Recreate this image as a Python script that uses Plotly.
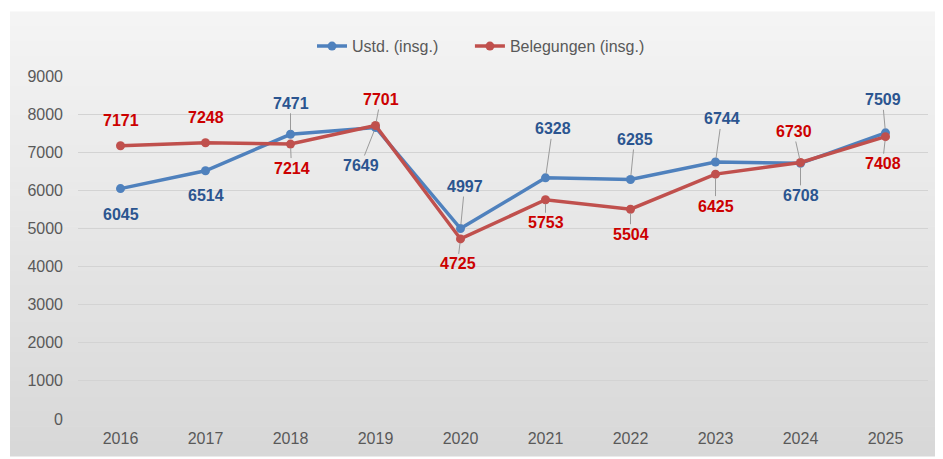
import plotly.graph_objects as go

# data
years = [2016, 2017, 2018, 2019, 2020, 2021, 2022, 2023, 2024, 2025]
ustd = [6045, 6514, 7471, 7649, 4997, 6328, 6285, 6744, 6708, 7509]
belegungen = [7171, 7248, 7214, 7701, 4725, 5753, 5504, 6425, 6730, 7408]
y_ticks = [0, 1000, 2000, 3000, 4000, 5000, 6000, 7000, 8000, 9000]

# label placement (pixel offsets from the point, leader line yes/no)
ustd_pos = [(0, 26, False), (0, 25, False), (0, -31, True), (-15, 38, True), (4, -42, True),
            (7, -49, True), (4, -40, True), (6, -43, True), (0, 32, True), (-3, -33, True)]
beleg_pos = [(0, -25, False), (0, -25, False), (1, 24, True), (5, -26, True), (-3, 25, True),
             (0, 23, True), (0, 25, True), (0, 32, True), (-7, -31, True), (-3, 27, True)]

FONT = "Liberation Sans, Arial, sans-serif"
BLUE = "#4f81bd"
RED = "#c0504d"
BLUE_TXT = "#2b5590"
RED_TXT = "#cc0000"

# page body has an 8px margin, so the figure is a bit smaller than the window
W, H = 935, 451
L, R, T, B = 70, 15, 68, 38
pw, ph = W - L - R, H - T - B

fig = go.Figure()
fig.add_trace(go.Scatter(x=years, y=ustd, name="Ustd. (insg.)" + "&nbsp;" * 6,
                         mode="lines+markers",
                         line=dict(color=BLUE, width=3.5), marker=dict(size=9, color=BLUE)))
fig.add_trace(go.Scatter(x=years, y=belegungen, name="Belegungen (insg.)", mode="lines+markers",
                         line=dict(color=RED, width=3.5), marker=dict(size=9, color=RED)))

annots = []
for vals, pos, col in [(ustd, ustd_pos, BLUE_TXT), (belegungen, beleg_pos, RED_TXT)]:
    for x, y, (dx, dy, line) in zip(years, vals, pos):
        annots.append(dict(x=x, y=y, text="<b>%d</b>" % y, ax=dx, ay=dy, showarrow=True,
                           arrowhead=0, arrowwidth=1, standoff=4,
                           arrowcolor="#9a9a9a" if line else "rgba(0,0,0,0)",
                           font=dict(family=FONT, size=16, color=col)))

# grey vertical gradient behind the chart (Excel style chart area)
def px2paper_x(p):
    return (p - L) / pw

def px2paper_y(p):
    return (H - B - p) / ph

shapes = []
top, bottom, left, right = 3, 450, 2, 930
n = 60
c0, c1 = (244, 244, 244), (216, 216, 216)
for i in range(n):
    t = i / (n - 1)
    c = tuple(int(round(a + (b - a) * t)) for a, b in zip(c0, c1))
    y0 = top + (bottom - top) * i / n
    y1 = top + (bottom - top) * (i + 1) / n
    shapes.append(dict(type="rect", xref="paper", yref="paper", layer="below",
                       x0=px2paper_x(left), x1=px2paper_x(right),
                       y0=px2paper_y(y1) - 0.002, y1=px2paper_y(y0),
                       fillcolor="rgb(%d,%d,%d)" % c, line=dict(width=0)))

fig.update_layout(
    width=W, height=H,
    margin=dict(l=L, r=R, t=T, b=B),
    paper_bgcolor="white", plot_bgcolor="rgba(0,0,0,0)",
    font=dict(family=FONT, size=16, color="#595959"),
    showlegend=True,
    legend=dict(orientation="h", x=px2paper_x(304), xanchor="left", y=1.087, yanchor="middle",
                bgcolor="rgba(0,0,0,0)", font=dict(size=16, color="#595959")),
    shapes=shapes,
    annotations=annots,
)
fig.update_xaxes(range=[2015.5, 2025.5], tickvals=years, ticktext=[str(y) for y in years],
                 showgrid=False, zeroline=False, showline=False, ticks="", ticklabelstandoff=8,
                 tickfont=dict(size=16, color="#595959"))
fig.update_yaxes(range=[0, 9000], tickvals=y_ticks, showgrid=True, gridcolor="#d3d3d3",
                 gridwidth=1, zeroline=False, showline=False, ticks="", ticklabelstandoff=14,
                 tickfont=dict(size=16, color="#595959"))

fig.write_html("out.html")
